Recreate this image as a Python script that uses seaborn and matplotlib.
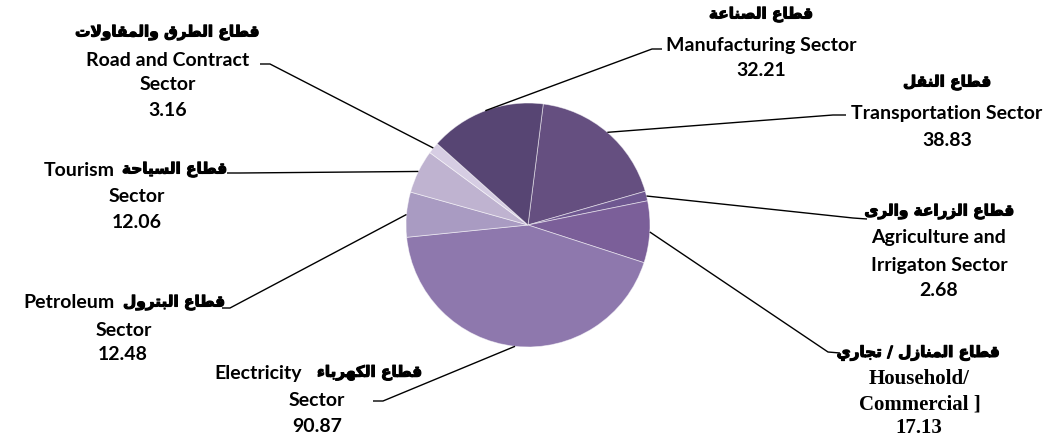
import numpy as np
import matplotlib
matplotlib.use("Agg")
import matplotlib.pyplot as plt
import matplotlib.patheffects as pe
import seaborn as sns

# Sector consumption shares, listed clockwise starting just right of 12 o'clock
sector_ar = [
    "قطاع النقل",
    "قطاع الزراعة والرى",
    "قطاع المنازل / تجاري",
    "قطاع الكهرباء",
    "قطاع البترول",
    "قطاع السياحة",
    "قطاع الطرق والمقاولات",
    "قطاع الصناعة",
]
sector_en = [
    "Transportation Sector",
    "Agriculture and\nIrrigaton Sector",
    "Household/\nCommercial ]",
    "Electricity\nSector",
    "Petroleum\nSector",
    "Tourism\nSector",
    "Road and Contract\nSector",
    "Manufacturing Sector",
]
values = [38.83, 2.68, 17.13, 90.87, 12.48, 12.06, 3.16, 32.21]

slice_colors = ["#654f80", "#6f5891", "#7b5f99", "#8e78ad",
                "#a99bc2", "#bfb3d0", "#d6cde3", "#574573"]

# ---- minimal Arabic shaping (contextual forms + right-to-left order) ----
FORMS = {  # isolated, final, initial, medial
    "\u0621": ("\uFE80", "\uFE80", None, None),
    "\u0627": ("\uFE8D", "\uFE8E", None, None),
    "\u0628": ("\uFE8F", "\uFE90", "\uFE91", "\uFE92"),
    "\u0629": ("\uFE93", "\uFE94", None, None),
    "\u062A": ("\uFE95", "\uFE96", "\uFE97", "\uFE98"),
    "\u062C": ("\uFE9D", "\uFE9E", "\uFE9F", "\uFEA0"),
    "\u062D": ("\uFEA1", "\uFEA2", "\uFEA3", "\uFEA4"),
    "\u0631": ("\uFEAD", "\uFEAE", None, None),
    "\u0632": ("\uFEAF", "\uFEB0", None, None),
    "\u0633": ("\uFEB1", "\uFEB2", "\uFEB3", "\uFEB4"),
    "\u0635": ("\uFEB9", "\uFEBA", "\uFEBB", "\uFEBC"),
    "\u0637": ("\uFEC1", "\uFEC2", "\uFEC3", "\uFEC4"),
    "\u0639": ("\uFEC9", "\uFECA", "\uFECB", "\uFECC"),
    "\u0641": ("\uFED1", "\uFED2", "\uFED3", "\uFED4"),
    "\u0642": ("\uFED5", "\uFED6", "\uFED7", "\uFED8"),
    "\u0643": ("\uFED9", "\uFEDA", "\uFEDB", "\uFEDC"),
    "\u0644": ("\uFEDD", "\uFEDE", "\uFEDF", "\uFEE0"),
    "\u0645": ("\uFEE1", "\uFEE2", "\uFEE3", "\uFEE4"),
    "\u0646": ("\uFEE5", "\uFEE6", "\uFEE7", "\uFEE8"),
    "\u0647": ("\uFEE9", "\uFEEA", "\uFEEB", "\uFEEC"),
    "\u0648": ("\uFEED", "\uFEEE", None, None),
    "\u0649": ("\uFEEF", "\uFEF0", None, None),
    "\u064A": ("\uFEF1", "\uFEF2", "\uFEF3", "\uFEF4"),
}
LAM_ALEF = ("\uFEFB", "\uFEFC")


def links_forward(c):
    f = FORMS.get(c)
    return f is not None and f[2] is not None


def shape_arabic(text):
    out, i = [], 0
    while i < len(text):
        c = text[i]
        if c not in FORMS:
            out.append(c)
            i += 1
            continue
        prev_link = i > 0 and links_forward(text[i - 1])
        if c == "\u0644" and i + 1 < len(text) and text[i + 1] == "\u0627":
            out.append(LAM_ALEF[1] if prev_link else LAM_ALEF[0])
            i += 2
            continue
        nxt = text[i + 1] if i + 1 < len(text) else ""
        next_link = links_forward(c) and nxt in FORMS
        iso, fin, ini, med = FORMS[c]
        if prev_link and next_link:
            out.append(med)
        elif prev_link:
            out.append(fin)
        elif next_link:
            out.append(ini)
        else:
            out.append(iso)
        i += 1
    return "".join(reversed(out))


# ---- label layout (pixel positions, y measured from the top) ----
# "split" = (right edge of the English word, left edge of the Arabic words)
layout = [
    dict(x=[947, 947, 947], y=[83, 113, 140], elbow=(833, 115), end=(846, 115)),
    dict(x=[939, 939, 939, 939], y=[212, 238, 265, 290], elbow=(853, 218), end=(867, 219)),
    dict(x=[918, 919, 920, 919], y=[353, 379, 405, 428], elbow=(828, 352), end=(840, 353), serif=True),
    dict(x=[None, 317, 317], y=[373, 401, 427], elbow=(383, 401), end=(373, 401), split=(302, 317)),
    dict(x=[None, 124, 123], y=[303, 330, 355], elbow=(230, 308), end=(222, 308), split=(115, 123)),
    dict(x=[None, 137, 137], y=[170, 197, 222], elbow=(240, 173), end=(227, 173), split=(115, 122)),
    dict(x=[167, 168, 168, 168], y=[33, 60, 85, 111], elbow=(270, 64), end=(260, 64)),
    dict(x=[761, 761, 761], y=[15, 45, 70], elbow=(652, 49), end=(662, 49)),
]

W, H = 1049, 441
PIE_CENTER = (528, H - 225)
PIE_RADIUS = 122

sns.set_theme(style="white")
plt.rcParams["font.family"] = ["Lato", "DejaVu Sans"]

fig = plt.figure(figsize=(W / 100, H / 100), dpi=100)
ax = fig.add_axes([0, 0, 1, 1])

wedges, _ = ax.pie(
    values,
    colors=sns.color_palette(slice_colors),
    startangle=82.8,
    counterclock=False,
    center=PIE_CENTER,
    radius=PIE_RADIUS,
    wedgeprops=dict(edgecolor=(1, 1, 1, 0.55), linewidth=0.6),
)
ax.set_xlim(0, W)
ax.set_ylim(0, H)
ax.set_aspect("equal")
ax.axis("off")

LATIN = dict(family=["Lato", "DejaVu Sans"], fontsize=14)
ARABIC = dict(family=["DejaVu Sans"], fontsize=11,
              path_effects=[pe.withStroke(linewidth=0.8, foreground="black")])
SERIF = dict(family=["Liberation Serif", "DejaVu Serif"], fontsize=15)


def put(x, y, txt, style, ha="center"):
    ax.text(x, H - y, txt, ha=ha, va="center", fontweight="bold",
            color="black", **style)


for w, ar, en, v, lay in zip(wedges, sector_ar, sector_en, values, layout):
    # leader line from the middle of the slice's arc
    mid = np.deg2rad((w.theta1 + w.theta2) / 2)
    ax0 = PIE_CENTER[0] + PIE_RADIUS * np.cos(mid)
    ay0 = PIE_CENTER[1] + PIE_RADIUS * np.sin(mid)
    ex, ey = lay["elbow"]
    tx, ty = lay["end"]
    ax.plot([ax0, ex, tx], [ay0, H - ey, H - ty], color="black", lw=1.0,
            solid_capstyle="butt", zorder=3)

    en_lines = en.split("\n")
    ar_vis = shape_arabic(ar)
    eng = SERIF if lay.get("serif") else LATIN
    xs, ys = lay["x"], lay["y"]

    if "split" in lay:
        r_en, l_ar = lay["split"]
        put(r_en, ys[0], en_lines[0], LATIN, ha="right")
        put(l_ar, ys[0], ar_vis, ARABIC, ha="left")
        rest = en_lines[1:]
    else:
        put(xs[0], ys[0], ar_vis, ARABIC)
        rest = en_lines
    for k, t in enumerate(rest, start=1):
        put(xs[k], ys[k], t, eng)
    put(xs[-1], ys[-1], f"{v:.2f}", eng)

fig.savefig("out.png", dpi=100)
